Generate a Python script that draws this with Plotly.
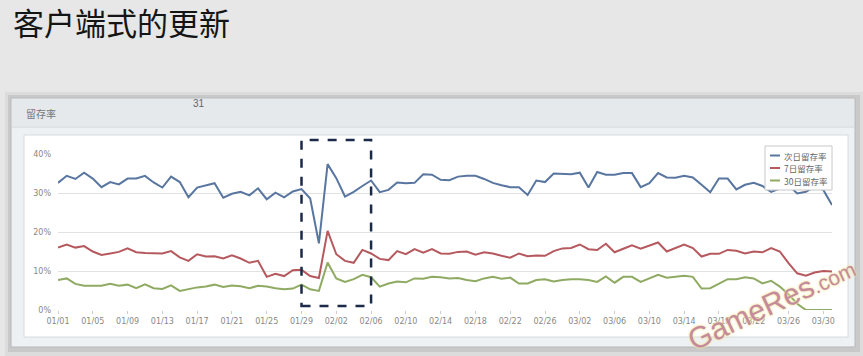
import plotly.graph_objects as go
import pandas as pd

# ---- data ----
days = [d.strftime("%m/%d") for d in pd.date_range("2013-01-01", "2013-03-31")]
tick_labels = ["01/01", "01/05", "01/09", "01/13", "01/17", "01/21", "01/25", "01/29",
               "02/02", "02/06", "02/10", "02/14", "02/18", "02/22", "02/26", "03/02",
               "03/06", "03/10", "03/14", "03/18", "03/22", "03/26", "03/30"]
y_ticks = [0, 10, 20, 30, 40]
y_tick_labels = ["0%", "10%", "20%", "30%", "40%"]

series_names = ["次日留存率", "7日留存率", "30日留存率"]
series_colors = ["#5876a0", "#b5595e", "#8faa62"]

day1 = [32.6, 34.4, 33.6, 35.2, 33.7, 31.5, 32.8, 32.2, 33.7, 33.7,
        34.4, 32.7, 31.4, 34.2, 32.8, 28.9, 31.4, 32.0, 32.5, 28.8,
        29.8, 30.3, 29.4, 31.2, 28.4, 30.1, 28.9, 30.4, 31.0, 28.6,
        17.1, 37.4, 33.8, 29.1, 30.3, 31.8, 33.2, 30.2, 30.8, 32.7,
        32.5, 32.6, 34.8, 34.7, 33.4, 33.3, 34.2, 34.4, 34.4, 33.6,
        32.6, 32.0, 31.5, 31.5, 29.5, 33.2, 32.8, 35.0, 34.9, 34.8,
        35.2, 31.4, 35.4, 34.7, 34.7, 35.1, 35.1, 31.5, 32.5, 35.1,
        34.0, 33.9, 34.4, 34.0, 32.1, 30.2, 33.7, 33.7, 30.9, 32.1,
        32.6, 31.8, 30.3, 31.2, 32.0, 29.9, 30.3, 31.6, 30.8, 26.9]
day7 = [16.0, 16.8, 16.0, 16.4, 15.0, 14.1, 14.5, 14.9, 15.8, 14.8,
        14.6, 14.5, 14.5, 15.1, 13.5, 12.6, 14.3, 13.7, 13.8, 13.2,
        14.0, 13.2, 12.1, 12.6, 8.5, 9.3, 8.7, 10.2, 10.3, 8.7,
        8.2, 20.3, 14.3, 12.6, 12.1, 15.4, 14.5, 13.1, 12.8, 15.1,
        14.3, 15.6, 14.7, 15.6, 14.5, 14.4, 14.9, 15.0, 14.2, 14.8,
        14.5, 13.9, 13.4, 14.5, 13.8, 14.0, 13.9, 15.1, 15.8, 15.9,
        16.8, 15.6, 15.4, 17.0, 14.8, 15.7, 16.6, 15.7, 16.4, 17.3,
        15.0, 15.8, 16.8, 15.9, 13.7, 14.4, 14.4, 15.4, 15.2, 14.5,
        15.0, 14.8, 15.9, 15.0, 12.0, 9.4, 8.8, 9.6, 10.0, 9.9]
day30 = [7.7, 8.1, 6.7, 6.2, 6.2, 6.2, 6.7, 6.2, 6.5, 5.6,
         6.6, 5.6, 5.4, 6.3, 4.9, 5.3, 5.8, 6.0, 6.5, 5.9,
         6.3, 6.1, 5.6, 6.2, 6.0, 5.6, 5.3, 5.5, 6.5, 5.3,
         4.9, 12.2, 8.1, 7.2, 7.9, 9.0, 8.4, 6.0, 6.8, 7.3,
         7.1, 8.1, 8.0, 8.5, 8.4, 8.1, 8.2, 7.7, 7.4, 8.1,
         8.5, 8.0, 8.3, 6.8, 6.8, 7.7, 7.9, 7.3, 7.7, 7.9,
         7.9, 7.7, 7.2, 8.6, 7.0, 8.5, 8.5, 7.2, 8.2, 9.0,
         8.3, 8.5, 8.8, 8.5, 5.5, 5.6, 6.8, 7.9, 7.9, 8.4,
         8.1, 6.8, 7.5, 6.0, 4.0, 1.6, 0, 0, 0, 0]
series_values = [day1, day7, day30]

highlight_start, highlight_end = "01/29", "02/06"

# ---- layout geometry (pixels) ----
W, H = 863, 356
L, R, T, B = 58, 31, 154, 46
PW, PH = W - L - R, H - T - B


def px(x):
    return (x - L) / PW


def py(y):
    return (H - B - y) / PH


fig = go.Figure()
for name, vals, col in zip(series_names, series_values, series_colors):
    fig.add_trace(go.Scatter(x=days, y=vals, mode="lines", name=name,
                             line=dict(color=col, width=2), showlegend=False))

shapes = []


def rect(x0, y0, x1, y1, fill, line=None, lw=1, layer="below"):
    shapes.append(dict(type="rect", xref="paper", yref="paper",
                       x0=px(x0), x1=px(x1), y0=py(y1), y1=py(y0),
                       fillcolor=fill, layer=layer,
                       line=dict(color=line or fill, width=lw if line else 0)))


# slide panel with shadow
rect(5, 92, 863, 356, "#dcdcdc")
rect(8, 95, 860, 352, "#c9c9c9")
rect(11, 98, 855, 347, "#eef1f3", "#b4b8bc")
rect(12, 99, 854, 126, "#e5e9ec")
shapes.append(dict(type="line", xref="paper", yref="paper", x0=px(12), x1=px(854),
                   y0=py(127), y1=py(127), line=dict(color="#cfd4d8", width=1), layer="below"))
rect(24, 135, 848, 337, "#ffffff", "#d6dadd")

# highlight box: x from the category positions on the axis (range 0..n-1)
n_last = len(days) - 1
shapes.append(dict(type="rect", xref="paper", yref="paper",
                   x0=days.index(highlight_start) / n_last, x1=days.index(highlight_end) / n_last,
                   y0=py(306), y1=py(140), layer="above",
                   line=dict(color="#1b2a48", width=2.5, dash="dash")))

# legend box
rect(765, 146, 832, 190, "#ffffff", "#c8c8c8", 1, layer="above")

annotations = []
leg_y = [155.5, 168, 180.5]
for name, col, yy in zip(series_names, series_colors, leg_y):
    shapes.append(dict(type="line", xref="paper", yref="paper", x0=px(770), x1=px(780),
                       y0=py(yy), y1=py(yy), line=dict(color=col, width=2), layer="above"))
    annotations.append(dict(xref="paper", yref="paper", x=px(783), y=py(yy), text=name,
                            showarrow=False, xanchor="left", yanchor="middle", borderpad=0,
                            font=dict(size=8.5, color="#666666", family="Noto Sans CJK SC")))

# title and panel labels
annotations.append(dict(xref="paper", yref="paper", x=px(11), y=py(21), text="客户端式的更新",
                        showarrow=False, xanchor="left", yanchor="middle",
                        font=dict(size=31, color="#151515", family="Noto Sans CJK SC")))
annotations.append(dict(xref="paper", yref="paper", x=px(24), y=py(113), text="留存率",
                        showarrow=False, xanchor="left", yanchor="middle",
                        font=dict(size=10, color="#777777", family="Noto Sans CJK SC")))
annotations.append(dict(xref="paper", yref="paper", x=px(199), y=py(103), text="31",
                        showarrow=False, xanchor="center", yanchor="middle",
                        font=dict(size=10, color="#666666", family="Liberation Sans")))
# watermark
annotations.append(dict(xref="paper", yref="paper", x=px(771), y=py(303),
                        text="GameRes<span style='font-size:21px'>.com</span>",
                        showarrow=False, textangle=-25, xanchor="center", yanchor="middle",
                        font=dict(size=30, color="#c58b9d", family="Liberation Sans",
                                  shadow="0px 0px 3px #f3e7a0, 0px 0px 2px #f3e7a0")))

fig.update_layout(
    width=W, height=H,
    margin=dict(l=L, r=R, t=T, b=B),
    paper_bgcolor="#e7e7e7",
    plot_bgcolor="rgba(0,0,0,0)",
    shapes=shapes,
    annotations=annotations,
    showlegend=False,
    xaxis=dict(type="category", range=[0, n_last], tickvals=tick_labels,
               ticktext=tick_labels, showgrid=False, ticks="outside", ticklen=3,
               tickcolor="#cccccc", showline=False, zeroline=False,
               tickfont=dict(size=8, color="#888888", family="DejaVu Sans")),
    yaxis=dict(range=[0, 40], tickvals=y_ticks, ticktext=y_tick_labels,
               showgrid=True, gridcolor="#e2e2e2", gridwidth=1, zeroline=False,
               ticks="", ticklabelstandoff=6,
               tickfont=dict(size=8, color="#888888", family="DejaVu Sans")),
)

fig.write_html("out.html", config={"displayModeBar": False},
               post_script="document.body.style.margin='0';document.body.style.background='#e7e7e7';")
